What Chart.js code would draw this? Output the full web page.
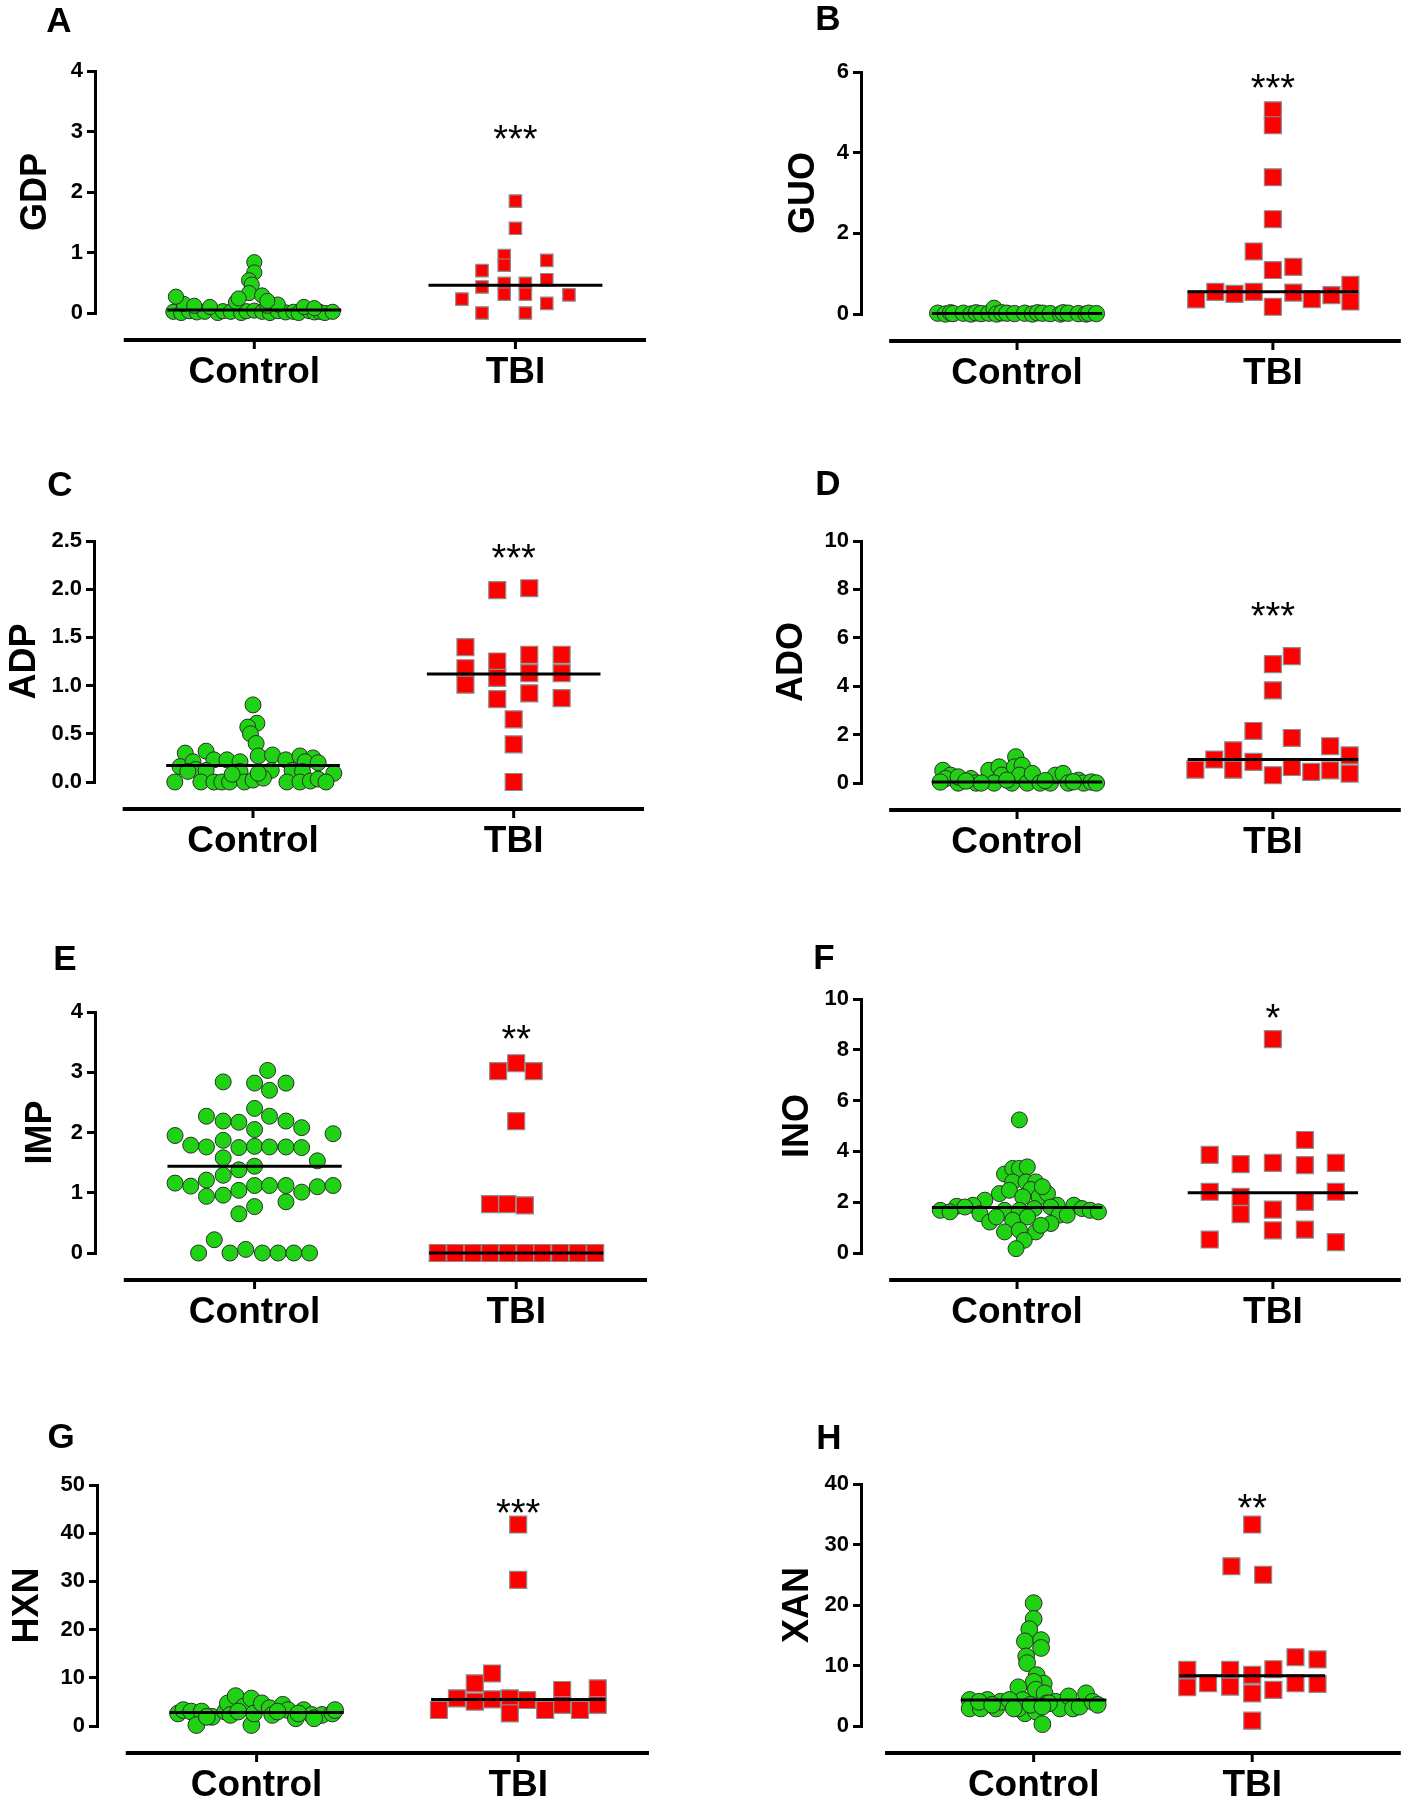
<!DOCTYPE html>
<html>
<head>
<meta charset="utf-8">
<script src="https://cdn.jsdelivr.net/npm/chart.js@4.4.1/dist/chart.umd.min.js"></script>
<style>
  html, body { margin: 0; padding: 0; background: #fff; }
  #page { position: relative; width: 1414px; height: 1800px; overflow: hidden; }
  #page canvas { position: absolute; }
</style>
</head>
<body>
<div id="page"></div>
<script>
// Categorias do eixo x
const categories = ['Control', 'TBI'];

// A - GDP
const gdpTicks = [0, 1, 2, 3, 4];
const gdpMeans = [0.05, 0.46];
const gdpControlX = [0.69,0.72,0.75,0.78,0.81,0.86,0.88,0.91,0.95,0.97,1.00,1.03,1.06,1.09,1.12,1.15,1.17,1.21,1.23,1.25,1.27,1.30,
  0.73,0.77,0.83,0.93,1.05,1.09,1.19,1.23,0.70,1.00,1.00,0.98,0.99,0.98,1.03,0.94,1.05];
const gdpControlY = [0.02,0.00,0.03,0.01,0.02,0.00,0.03,0.02,0.00,0.03,0.04,0.02,0.00,0.03,0.01,0.02,0.00,0.03,0.01,0.02,0.00,0.02,
  0.15,0.12,0.10,0.18,0.12,0.14,0.10,0.08,0.27,0.84,0.67,0.54,0.47,0.33,0.29,0.24,0.20];
const gdpTbiX = [2.0,2.0,1.957,1.957,2.12,1.872,1.872,1.957,1.957,2.038,2.038,2.12,2.12,1.795,2.205,1.872,2.038];
const gdpTbiY = [1.85,1.40,0.95,0.79,0.87,0.70,0.43,0.49,0.31,0.49,0.31,0.55,0.16,0.23,0.30,0.00,0.00];

// B - GUO
const guoTicks = [0, 2, 4, 6];
const guoMeans = [0.01, 0.55];
const guoControlX = [0.69,0.72,0.74,0.75,0.79,0.82,0.84,0.86,0.89,0.91,0.92,0.94,0.96,0.99,1.03,1.06,1.08,1.10,1.13,1.17,1.18,1.20,1.24,1.27,1.28,1.31];
const guoControlY = [0.02,0.0,0.03,0.01,0.02,0.0,0.03,0.01,0.02,0.14,0.0,0.03,0.02,0.01,0.02,0.0,0.03,0.02,0.01,0.0,0.03,0.02,0.01,0.0,0.02,0.01];
const guoTbiX = [2.0,2.0,2.0,2.0,1.925,2.0,2.08,1.70,1.775,1.85,1.925,2.0,2.08,2.152,2.229,2.303,2.303];
const guoTbiY = [5.05,4.68,3.39,2.35,1.55,1.09,1.17,0.36,0.55,0.50,0.55,0.18,0.53,0.37,0.47,0.72,0.31];

// C - ADP
const adpTicks = [0, 0.5, 1, 1.5, 2, 2.5];
const adpMeans = [0.17, 1.12];
const adpControlX = [1.0,1.015,0.98,0.99,1.012,1.02,0.74,0.82,0.72,0.77,0.78,0.85,0.90,0.95,0.95,1.075,1.126,1.18,1.23,1.20,1.25,1.31,1.15,1.19,1.07,
  0.75,0.82,0.70,0.80,0.85,0.88,0.91,0.967,1.0,1.04,1.13,1.18,1.22,1.25,1.28,0.92,1.02];
const adpControlY = [0.80,0.61,0.57,0.50,0.40,0.27,0.30,0.32,0.16,0.21,0.13,0.23,0.23,0.21,0.11,0.28,0.23,0.27,0.25,0.21,0.20,0.09,0.12,0.11,0.12,
  0.11,0.12,0.0,0.0,0.0,0.0,0.0,0.0,0.02,0.04,0.0,0.0,0.01,0.03,0.0,0.08,0.09];
const adpTbiX = [1.937,2.06,1.815,1.815,1.815,1.937,1.937,1.937,2.06,2.06,2.06,2.184,2.184,2.184,2.0,2.0,2.0];
const adpTbiY = [1.99,2.01,1.40,1.18,1.01,1.25,1.08,0.86,1.32,1.13,0.92,1.32,1.13,0.87,0.65,0.39,0.0];

// D - ADO
const adoTicks = [0, 2, 4, 6, 8, 10];
const adoMeans = [0.04, 0.97];
const adoControlX = [0.71,0.74,0.72,0.70,0.77,0.82,0.84,0.89,0.89,0.93,0.94,0.91,0.98,0.995,0.99,1.02,1.01,1.04,1.06,1.09,1.13,1.15,1.18,1.20,1.24,
  1.26,1.29,1.31,0.86,0.77,0.80,0.96,1.11,1.22];
const adoControlY = [0.52,0.32,0.18,0.04,0.0,0.18,0.0,0.25,0.52,0.66,0.32,0.0,0.0,1.08,0.66,0.73,0.32,0.0,0.39,0.0,0.0,0.32,0.39,0.0,0.11,
  0.0,0.04,0.0,0.0,0.25,0.08,0.12,0.10,0.05];
const adoTbiX = [2.0,2.074,2.0,1.924,2.074,1.697,1.771,1.845,1.845,1.924,2.0,2.074,2.15,2.224,2.224,2.3,2.3];
const adoTbiY = [4.91,5.24,3.83,2.15,1.86,0.55,0.97,1.35,0.55,0.87,0.32,0.66,0.46,1.52,0.52,1.14,0.39];

// E - IMP
const impTicks = [0, 1, 2, 3, 4];
const impMeans = [1.44, 0.0];
const impControlX = [1.05,0.88,1.0,1.12,1.057,1.0,0.816,0.88,0.94,1.057,1.12,1.18,1.0,0.696,1.30,0.756,0.816,0.88,0.94,1.0,1.057,1.12,1.18,0.88,1.24,
  1.0,0.94,0.88,0.696,0.756,0.816,1.0,1.057,1.12,1.24,1.30,0.816,0.88,0.94,1.18,1.12,1.0,0.94,0.846,0.786,0.906,0.966,1.03,1.09,1.15,1.21];
const impControlY = [3.03,2.84,2.82,2.82,2.70,2.40,2.27,2.19,2.17,2.27,2.19,2.08,2.05,1.95,1.98,1.79,1.76,1.87,1.75,1.77,1.76,1.76,1.75,1.58,1.53,
  1.44,1.38,1.29,1.16,1.11,1.21,1.12,1.12,1.12,1.10,1.12,0.94,0.96,1.04,1.01,0.85,0.77,0.65,0.22,0.0,0.0,0.06,0.0,0.0,0.0,0.0];
const impTbiX = [1.931,2.0,2.067,2.0,1.90,1.966,2.033,1.70,1.767,1.834,1.90,1.967,2.034,2.10,2.168,2.235,2.302];
const impTbiY = [3.02,3.15,3.02,2.19,0.81,0.81,0.79,0,0,0,0,0,0,0,0,0,0];

// F - INO
const inoTicks = [0, 2, 4, 6, 8, 10];
const inoMeans = [1.79, 2.37];
const inoControlX = [1.009,0.951,0.983,1.009,1.04,0.983,1.035,1.073,1.054,1.086,1.119,0.931,0.970,1.022,0.874,1.157,0.828,0.764,0.700,0.738,0.796,0.951,
  1.009,1.067,1.132,1.222,1.254,1.286,1.318,0.855,0.893,0.983,1.041,1.164,1.196,0.951,1.009,1.073,1.132,1.093,1.028,0.996,0.919,1.099];
const inoControlY = [5.24,3.11,3.33,3.33,3.39,2.80,2.80,2.80,2.50,2.21,2.34,2.34,2.47,2.21,2.08,1.88,1.88,1.84,1.68,1.62,1.81,1.68,
  1.68,1.75,1.81,1.88,1.75,1.68,1.62,1.55,1.22,1.29,1.42,1.49,1.49,0.83,0.90,0.83,1.16,1.09,0.50,0.17,1.42,2.61];
const inoTbiX = [2.0,1.753,1.753,1.753,1.874,1.874,1.874,2.0,2.0,2.0,2.125,2.125,2.125,2.125,2.246,2.246,2.246];
const inoTbiY = [8.42,3.86,2.41,0.53,3.5,2.21,1.53,3.55,1.71,0.89,4.45,3.46,2.01,0.92,3.55,2.41,0.43];

// G - HXN
const hxnTicks = [0, 10, 20, 30, 40, 50];
const hxnMeans = [2.8, 5.5];
const hxnControlX = [0.70,0.72,0.75,0.79,0.77,0.83,0.88,0.89,0.92,0.90,0.95,0.98,0.98,0.99,1.02,1.05,1.06,1.10,1.12,1.15,1.18,1.21,1.25,1.29,1.30,0.93,1.08,1.16,1.22,0.81];
const hxnControlY = [2.6,3.3,3.0,3.0,0.2,1.9,3.0,4.7,6.2,2.3,4.0,5.7,0.2,2.6,4.7,3.7,2.3,4.4,3.3,1.6,3.3,2.3,2.3,2.6,3.3,3.0,3.0,2.6,1.6,1.9];
const hxnTbiX = [2.0,2.0,1.90,1.834,1.766,1.697,1.834,1.90,1.968,1.968,2.034,2.103,2.168,2.168,2.236,2.304,2.304];
const hxnTbiY = [41.8,30.3,10.9,8.85,5.74,3.32,5.05,5.53,5.74,2.63,5.39,3.32,7.47,4.36,3.32,7.81,4.36];

// H - XAN
const xanTicks = [0, 10, 20, 30, 40];
const xanMeans = [4.3, 8.3];
const xanControlX = [1.0,1.0,0.98,0.96,1.034,1.034,0.966,0.97,1.014,1.046,1.0,0.93,0.95,1.01,1.05,0.96,1.01,1.04,0.93,0.986,1.06,
  0.707,0.707,0.758,0.788,0.828,0.848,0.889,0.909,1.10,1.12,1.16,1.18,1.21,1.24,1.27,1.293,1.07,1.04,0.75,0.81];
const xanControlY = [20.3,17.7,16.0,14.0,14.2,12.9,11.5,10.4,8.4,7.0,7.3,6.4,4.3,6.0,5.4,2.1,2.4,0.3,2.9,3.5,3.75,
  4.3,2.9,2.9,4.3,2.9,4.0,4.3,2.9,4.0,2.9,4.9,2.9,3.2,5.4,4.0,3.5,3.75,3.2,4.0,3.5];
const xanTbiX = [2.0,1.905,2.05,1.703,1.703,1.798,1.899,1.899,2.0,2.0,2.0,2.097,2.097,2.198,2.198,2.299,2.299];
const xanTbiY = [33.3,26.4,25.0,9.27,6.4,7.06,9.27,6.5,8.44,5.4,0.88,9.38,5.96,11.37,7.06,11.0,6.95];

// Configuração de cada painel (posições em pixels da página)
const painéis = [
  { letra: 'A', titulo: 'GDP', estrelas: '***', estrelasEm: 2.97, ticks: gdpTicks, dec: 0, medias: gdpMeans,
    cx: gdpControlX, cy: gdpControlY, tx: gdpTbiX, ty: gdpTbiY,
    tela: [0, 0, 707, 460], area: [95, 71, 646, 313], faixa: [0.39, 2.5], linha: [0.5, 2.5],
    letraEm: [59, 19], tituloGap: 62, raioC: 7.6, raioQ: 8.8 },
  { letra: 'B', titulo: 'GUO', estrelas: '***', estrelasEm: 5.75, ticks: guoTicks, dec: 0, medias: guoMeans,
    cx: guoControlX, cy: guoControlY, tx: guoTbiX, ty: guoTbiY,
    tela: [707, 0, 707, 460], area: [861, 72, 1407, 314], faixa: [0.39, 2.5], linha: [0.5, 2.5],
    letraEm: [828, 17], tituloGap: 60, raioC: 8.2, raioQ: 12 },
  { letra: 'C', titulo: 'ADP', estrelas: '***', estrelasEm: 2.39, ticks: adpTicks, dec: 1, medias: adpMeans,
    cx: adpControlX, cy: adpControlY, tx: adpTbiX, ty: adpTbiY,
    tela: [0, 460, 707, 470], area: [94, 541, 644, 782], faixa: [0.39, 2.5], linha: [0.5, 2.5],
    letraEm: [60, 483], tituloGap: 72, raioC: 8, raioQ: 12 },
  { letra: 'D', titulo: 'ADO', estrelas: '***', estrelasEm: 7.15, ticks: adoTicks, dec: 0, medias: adoMeans,
    cx: adoControlX, cy: adoControlY, tx: adoTbiX, ty: adoTbiY,
    tela: [707, 460, 707, 470], area: [861, 541, 1407, 783], faixa: [0.39, 2.5], linha: [0.5, 2.5],
    letraEm: [828, 482], tituloGap: 72, raioC: 8.2, raioQ: 12 },
  { letra: 'E', titulo: 'IMP', estrelas: '**', estrelasEm: 3.65, ticks: impTicks, dec: 0, medias: impMeans,
    cx: impControlX, cy: impControlY, tx: impTbiX, ty: impTbiY,
    tela: [0, 930, 707, 470], area: [95, 1012, 647, 1253], faixa: [0.39, 2.5], linha: [0.5, 2.5],
    letraEm: [65, 957], tituloGap: 57, raioC: 8, raioQ: 12 },
  { letra: 'F', titulo: 'INO', estrelas: '*', estrelasEm: 9.5, ticks: inoTicks, dec: 0, medias: inoMeans,
    cx: inoControlX, cy: inoControlY, tx: inoTbiX, ty: inoTbiY,
    tela: [707, 930, 707, 470], area: [861, 999, 1407, 1253], faixa: [0.39, 2.5], linha: [0.5, 2.5],
    letraEm: [824, 956], tituloGap: 66, raioC: 8, raioQ: 12 },
  { letra: 'G', titulo: 'HXN', estrelas: '***', estrelasEm: 45.4, ticks: hxnTicks, dec: 0, medias: hxnMeans,
    cx: hxnControlX, cy: hxnControlY, tx: hxnTbiX, ty: hxnTbiY,
    tela: [0, 1400, 707, 400], area: [97, 1485, 649, 1726], faixa: [0.39, 2.5], linha: [0.5, 2.5],
    letraEm: [61, 1435], tituloGap: 72, raioC: 8.4, raioQ: 12 },
  { letra: 'H', titulo: 'XAN', estrelas: '**', estrelasEm: 37.1, ticks: xanTicks, dec: 0, medias: xanMeans,
    cx: xanControlX, cy: xanControlY, tx: xanTbiX, ty: xanTbiY,
    tela: [707, 1400, 707, 400], area: [861, 1484, 1407, 1726], faixa: [0.21, 2.68], linha: [0.32, 2.68],
    letraEm: [829, 1436], tituloGap: 66, raioC: 8.4, raioQ: 12 }
];

const FONTE = '"Liberation Sans", Arial, Helvetica, sans-serif';
Chart.defaults.font.family = FONTE;
Chart.defaults.color = '#000';

const VERDE = 'rgb(32, 210, 20)';
const VERMELHO = 'rgb(255, 0, 0)';

// Eixo x deslocado, estrelas, título do eixo y e letra do painel
const decorPlugin = {
  id: 'decor',
  afterDraw(chart) {
    const p = chart.options.plugins.decor;
    const ctx = chart.ctx;
    const xs = chart.scales.x, ys = chart.scales.y;
    const area = chart.chartArea;
    const eixoY = area.bottom + 27;
    ctx.save();
    ctx.strokeStyle = '#000';
    ctx.lineWidth = 4;
    ctx.beginPath();
    ctx.moveTo(xs.getPixelForValue(p.linha[0]), eixoY);
    ctx.lineTo(xs.getPixelForValue(p.linha[1]), eixoY);
    ctx.stroke();
    ctx.lineWidth = 3;
    [1, 2].forEach(v => {
      const px = xs.getPixelForValue(v);
      ctx.beginPath();
      ctx.moveTo(px, eixoY);
      ctx.lineTo(px, eixoY + 9);
      ctx.stroke();
    });

    ctx.fillStyle = '#000';
    ctx.textAlign = 'center';
    ctx.textBaseline = 'alphabetic';
    ctx.font = '38px ' + FONTE;
    ctx.fillText(p.estrelas, xs.getPixelForValue(2), ys.getPixelForValue(p.estrelasEm) + 19);

    ctx.font = 'bold 35px ' + FONTE;
    ctx.fillText(p.letra, p.letraEm[0] - p.tela[0], p.letraEm[1] - p.tela[1] + 12.5);

    ctx.translate(area.left - p.tituloGap, (area.top + area.bottom) / 2);
    ctx.rotate(-Math.PI / 2);
    ctx.font = 'bold 36px ' + FONTE;
    ctx.fillText(p.titulo, 0, 13);
    ctx.restore();
  }
};

function pontos(xs, ys) {
  return xs.map((x, i) => ({ x: x, y: ys[i] }));
}

function linhaMedia(valor, centro) {
  return {
    type: 'line',
    data: [{ x: centro - 0.333, y: valor }, { x: centro + 0.333, y: valor }],
    borderColor: '#000',
    borderWidth: 3,
    pointRadius: 0,
    fill: false,
    order: 0,
    clip: false
  };
}

const pagina = document.getElementById('page');

painéis.forEach(p => {
  const [tl, tt, tw, th] = p.tela;
  const [al, at, ar, ab] = p.area;
  const canvas = document.createElement('canvas');
  canvas.width = tw;
  canvas.height = th;
  canvas.style.left = tl + 'px';
  canvas.style.top = tt + 'px';
  canvas.style.width = tw + 'px';
  canvas.style.height = th + 'px';
  pagina.appendChild(canvas);

  new Chart(canvas, {
    type: 'scatter',
    data: {
      datasets: [
        linhaMedia(p.medias[0], 1),
        linhaMedia(p.medias[1], 2),
        {
          label: categories[0],
          data: pontos(p.cx, p.cy),
          pointStyle: 'circle',
          pointRadius: p.raioC,
          backgroundColor: VERDE,
          borderColor: '#2d2d2d',
          borderWidth: 1,
          order: 1,
          clip: false
        },
        {
          label: categories[1],
          data: pontos(p.tx, p.ty),
          pointStyle: 'rect',
          pointRadius: p.raioQ,
          backgroundColor: VERMELHO,
          borderColor: '#8c8c8c',
          borderWidth: 1.2,
          order: 1,
          clip: false
        }
      ]
    },
    options: {
      responsive: false,
      animation: false,
      devicePixelRatio: 1,
      layout: { padding: { top: at - tt, right: tl + tw - ar, bottom: 0, left: 0 } },
      plugins: {
        legend: { display: false },
        tooltip: { enabled: false },
        decor: p
      },
      scales: {
        x: {
          type: 'linear',
          min: p.faixa[0],
          max: p.faixa[1],
          afterFit: s => { s.height = tt + th - ab; },
          afterBuildTicks: s => { s.ticks = [1, 2].map(v => ({ value: v })); },
          grid: { display: false, drawTicks: false },
          border: { display: false },
          ticks: {
            callback: v => categories[v - 1],
            font: { size: 37, weight: 'bold' },
            color: '#000',
            padding: 38,
            autoSkip: false,
            maxRotation: 0
          }
        },
        y: {
          min: 0,
          max: p.ticks[p.ticks.length - 1],
          afterFit: s => { s.width = al - tl; },
          afterBuildTicks: s => { s.ticks = p.ticks.map(v => ({ value: v })); },
          grid: { drawOnChartArea: false, color: '#000', tickColor: '#000', tickLength: 8, tickWidth: 3, lineWidth: 3 },
          border: { display: true, color: '#000', width: 3 },
          ticks: {
            callback: v => Number(v).toFixed(p.dec),
            font: { size: 22, weight: 'bold' },
            color: '#000',
            padding: 4,
            autoSkip: false
          }
        }
      }
    },
    plugins: [decorPlugin]
  });
});
</script>
</body>
</html>
